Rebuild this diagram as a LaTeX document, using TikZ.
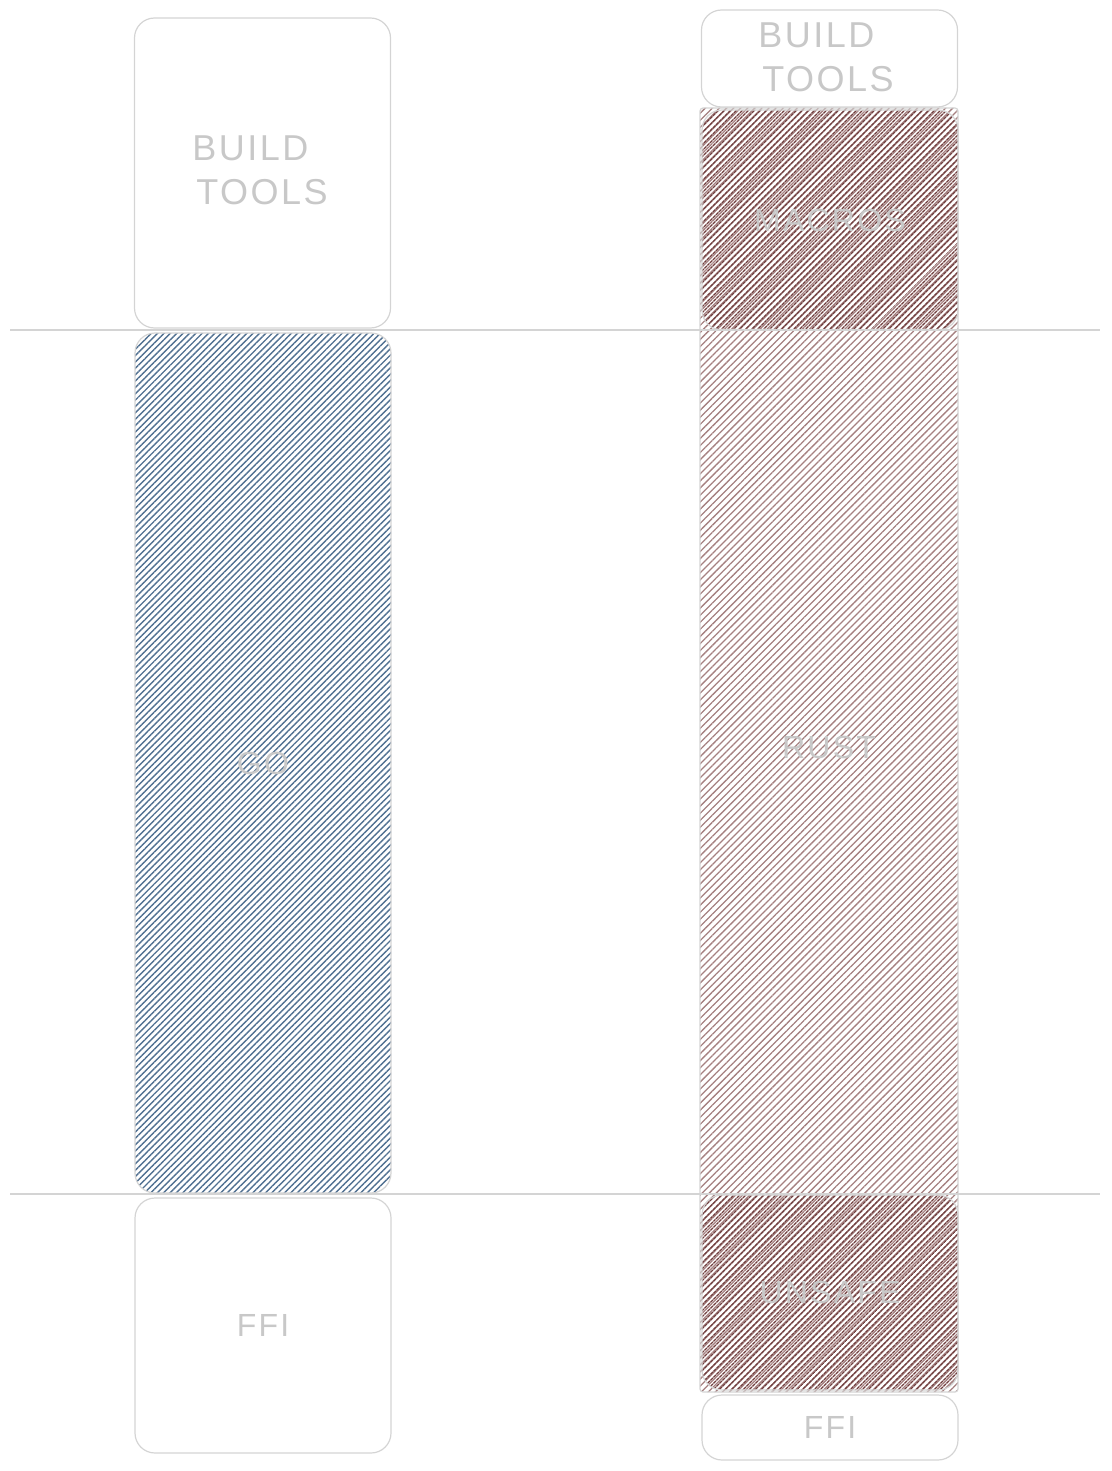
\documentclass[tikz,border=0pt]{standalone}
\usepackage{fontspec}
\setmainfont{Liberation Sans}[LetterSpace=7]
\usetikzlibrary{patterns.meta}
\definecolor{edge}{RGB}{212,212,212}
\definecolor{txt}{RGB}{200,200,200}
\definecolor{goblue}{RGB}{80,112,145}
\definecolor{rustlight}{RGB}{165,128,128}
\definecolor{rustdark}{RGB}{112,62,62}
\tikzset{
  box/.style={draw=edge, line width=1.2pt, rounded corners=20pt, inner sep=0pt,
    font=\fontsize{32}{40}\selectfont, text=txt, align=center},
  label/.style={font=\fontsize{36}{44}\selectfont, text=txt, align=left},
  gofill/.style={pattern={Lines[angle=45,distance=4.5pt,line width=1.4pt]}, pattern color=goblue},
  rustfill/.style={pattern={Lines[angle=45,distance=5pt,line width=1.3pt]}, pattern color=rustlight},
  darkfill/.style={pattern={Lines[angle=45,distance=4pt,line width=1.5pt]}, pattern color=rustdark},
  divider/.style={draw=edge, line width=1.2pt}
}
\begin{document}
\begin{tikzpicture}[x=1pt,y=-1pt]
\useasboundingbox (0,0) rectangle (1111,1471);
% left column
\node[box, minimum width=256pt, minimum height=310pt] (lbuild) at (262.5,173) {};
\node[label] (lbuildt) at (260,170) {BUILD\\\hspace*{4pt}TOOLS};
\node[box, gofill, minimum width=256pt, minimum height=860pt] (go) at (263,763) {GO};
\node[box, minimum width=256pt, minimum height=255pt] (lffi) at (263,1325.5) {FFI};
% right column
\node[box, minimum width=256pt, minimum height=97pt] (rbuild) at (829.5,58.5) {};
\node[label] (rbuildt) at (826,57) {BUILD\\\hspace*{4pt}TOOLS};
\node[box, rustfill, rounded corners=3pt, minimum width=258pt, minimum height=1284pt] (rust) at (829,750) {};
\node[font=\fontsize{32}{40}\selectfont, text=txt] (rustt) at (829,747) {RUST};
\node[box, darkfill, minimum width=256pt, minimum height=220pt] (macros) at (830,220) {MACROS};
\node[box, darkfill, minimum width=256pt, minimum height=195pt] (unsafe) at (830,1292.5) {UNSAFE};
\node[box, minimum width=256pt, minimum height=65pt] (rffi) at (830,1427.5) {FFI};
% dividers
\draw[divider] (10,330) -- (1100,330);
\draw[divider] (10,1194) -- (1100,1194);
\end{tikzpicture}
\end{document}
